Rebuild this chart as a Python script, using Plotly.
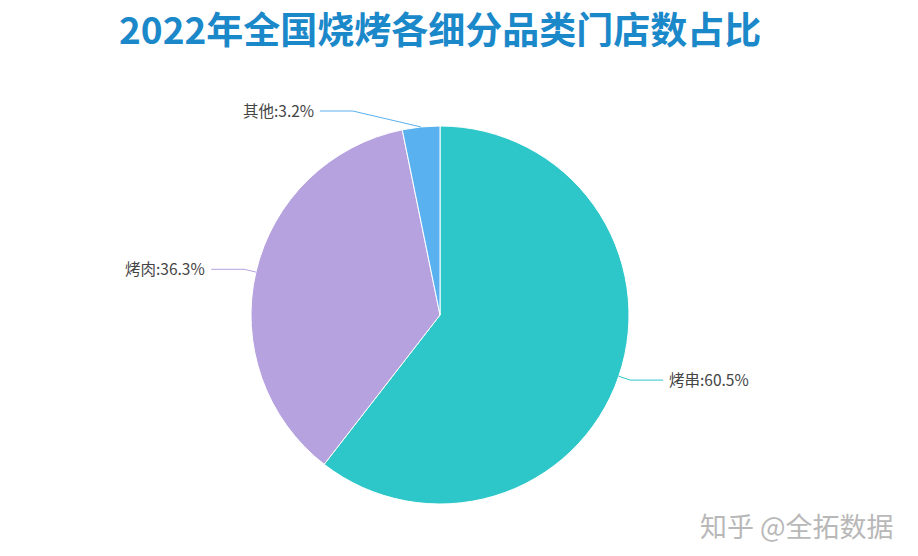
import math
import plotly.graph_objects as go

# ---- data ----
categories = ["烤串", "烤肉", "其他"]
shares = [60.5, 36.3, 3.2]
colors = ["#2ec7c9", "#b6a2de", "#5ab1ef"]
title_text = "2022年全国烧烤各细分品类门店数占比"

# ---- layout constants (pixels) ----
W, H = 918, 556
CX, CY, R = 440, 315, 189
LEN1, LEN2 = 12, 33
NUDGE = {"其他": (-67, -4)}

def px(x):
    return x / W

def py(y):
    return 1 - y / H

fig = go.Figure()
fig.add_trace(go.Pie(
    labels=categories,
    values=shares,
    sort=False,
    direction="clockwise",
    rotation=0,
    marker=dict(colors=colors, line=dict(color="#ffffff", width=1)),
    textinfo="none",
    hoverinfo="label+percent",
    showlegend=False,
    domain=dict(x=[px(CX - R), px(CX + R)], y=[py(CY + R), py(CY - R)]),
))

total = sum(shares)
cum = 0.0
shapes = []
annotations = []
for name, v, c in zip(categories, shares, colors):
    theta = 2 * math.pi * (cum + v / 2) / total
    cum += v
    s, co = math.sin(theta), math.cos(theta)
    x0, y0 = CX + R * s, CY - R * co
    x1, y1 = CX + (R + LEN1) * s, CY - (R + LEN1) * co
    dx, dy = NUDGE.get(name, (0, 0))
    x1 += dx
    y1 += dy
    side = 1 if s >= 0 else -1
    x2, y2 = x1 + side * LEN2, y1
    path = f"M {px(x0)},{py(y0)} L {px(x1)},{py(y1)} L {px(x2)},{py(y2)}"
    shapes.append(dict(type="path", path=path, xref="paper", yref="paper",
                       line=dict(color=c, width=1)))
    annotations.append(dict(
        x=px(x2 + side * 4), y=py(y2 - 1), xref="paper", yref="paper",
        text=f"{name}:{v}%", showarrow=False,
        xanchor="left" if side > 0 else "right", yanchor="middle",
        font=dict(family="Noto Sans CJK SC", size=15.5, color="#444444"),
    ))

annotations.append(dict(
    x=px(440), y=1, xref="paper", yref="paper",
    text=f"<b>{title_text}</b>", showarrow=False,
    xanchor="center", yanchor="top", borderpad=0,
    font=dict(family="Noto Sans CJK SC", size=37, color="#1a88c9"),
))
annotations.append(dict(
    x=px(896), y=py(525), xref="paper", yref="paper",
    text="知乎 @全拓数据", showarrow=False,
    xanchor="right", yanchor="middle",
    font=dict(family="Noto Sans CJK SC", size=27, color="#b8b8b8"),
))

fig.update_layout(
    width=W, height=H,
    margin=dict(l=0, r=0, t=0, b=0),
    paper_bgcolor="#ffffff",
    plot_bgcolor="#ffffff",
    shapes=shapes,
    annotations=annotations,
)

fig.write_html("out.html", config={"displayModeBar": False},
               post_script="document.body.style.margin='0';")
